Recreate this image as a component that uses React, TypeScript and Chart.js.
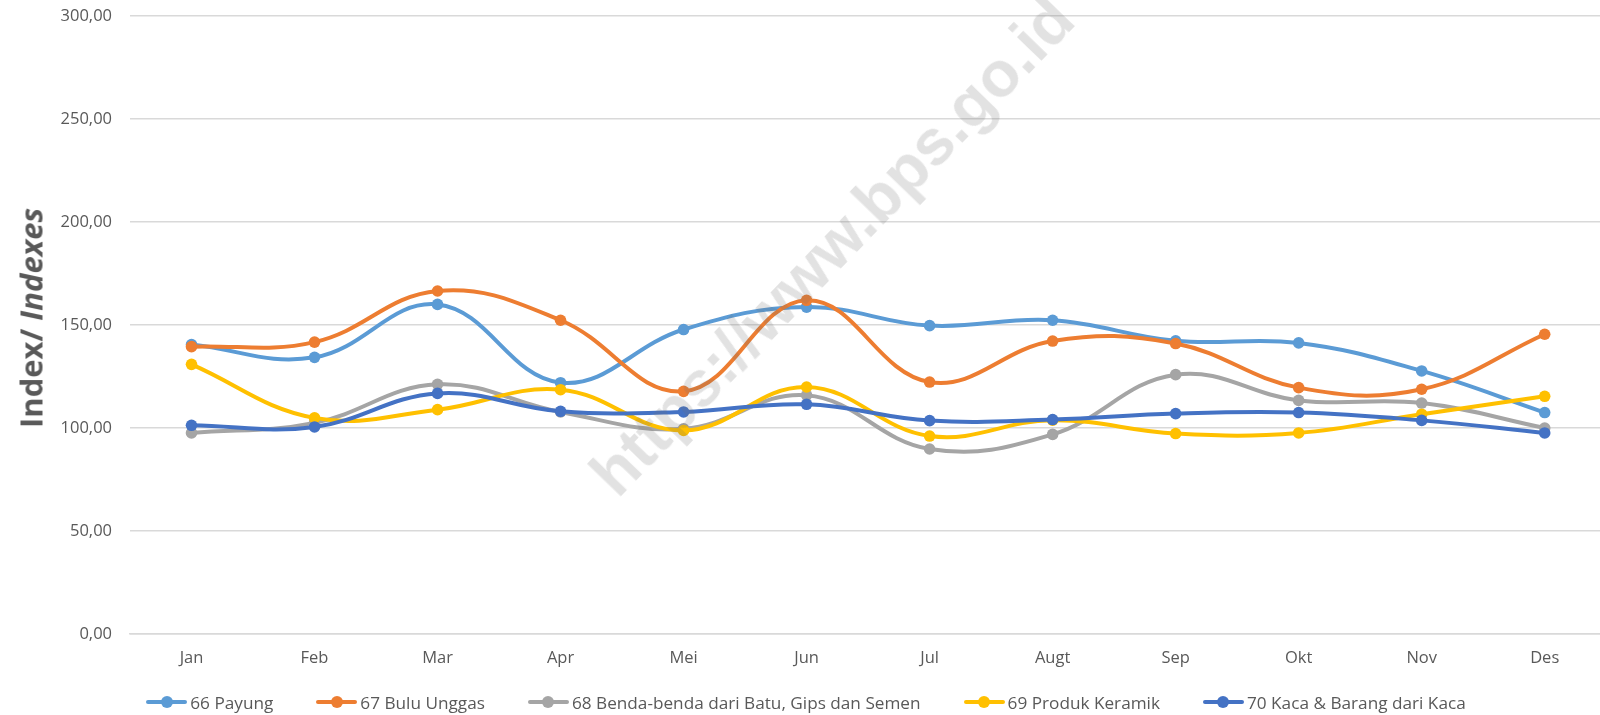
import React, { useEffect, useRef } from "react";
import { Chart, registerables } from "chart.js";

Chart.register(...registerables);

const months = ["Jan", "Feb", "Mar", "Apr", "Mei", "Jun", "Jul", "Augt", "Sep", "Okt", "Nov", "Des"];

const seriesNames = [
  "66 Payung",
  "67 Bulu Unggas",
  "68 Benda-benda dari Batu, Gips dan Semen",
  "69 Produk Keramik",
  "70 Kaca & Barang dari Kaca",
];

const payung = [140.5, 134.3, 160.0, 122.0, 147.8, 158.7, 149.7, 152.3, 142.3, 141.3, 127.7, 107.5];
const buluUnggas = [139.5, 141.7, 166.5, 152.3, 117.8, 162.0, 122.3, 142.2, 141.0, 119.6, 118.8, 145.5];
const bendaBatu = [97.6, 102.5, 121.2, 107.8, 99.6, 115.9, 89.8, 96.9, 125.9, 113.4, 112.1, 100.0];
const produkKeramik = [130.9, 104.9, 108.9, 118.6, 98.8, 119.9, 96.1, 103.8, 97.3, 97.6, 106.7, 115.4];
const kaca = [101.3, 100.5, 116.8, 108.1, 107.8, 111.5, 103.6, 104.1, 107.0, 107.5, 103.7, 97.6];

const seriesValues = [payung, buluUnggas, bendaBatu, produkKeramik, kaca];
const seriesColors = ["#5B9BD5", "#ED7D31", "#A5A5A5", "#FFC000", "#4472C4"];

const yMin = 0;
const yMax = 300;
const yStep = 50;

const FONT = "'Open Sans', 'Liberation Sans', sans-serif";
const TEXT = "#595959";

export default function App() {
  const ref = useRef<HTMLCanvasElement | null>(null);

  useEffect(() => {
    const canvas = ref.current;
    if (!canvas) return;
    Chart.defaults.font.family = FONT;
    const chart = new Chart(canvas, {
      type: "line",
      data: {
        labels: months,
        datasets: seriesValues.map((values, i) => ({
          label: seriesNames[i],
          data: values,
          borderColor: seriesColors[i],
          backgroundColor: seriesColors[i],
          pointBackgroundColor: seriesColors[i],
          pointBorderColor: seriesColors[i],
          pointBorderWidth: 0,
          pointRadius: 5.8,
          borderWidth: 4,
          tension: 0.4,
          fill: false,
          order: seriesValues.length - 1 - i,
        })),
      },
      options: {
        responsive: false,
        animation: false,
        layout: { padding: { top: 16, right: 3, bottom: 0, left: 0 } },
        plugins: {
          legend: { display: false },
          tooltip: { enabled: false },
          title: { display: false },
        },
        scales: {
          x: {
            offset: true,
            grid: { display: false, drawTicks: false, offset: true },
            border: { display: true, color: "#d9d9d9", width: 1.5 },
            ticks: {
              color: TEXT,
              font: { size: 16.5, family: FONT },
              padding: 14,
              maxRotation: 0,
              autoSkip: false,
            },
            afterFit: (s: any) => {
              s.height = 81;
            },
          },
          y: {
            min: yMin,
            max: yMax,
            grid: { color: "#d9d9d9", lineWidth: 1.5, drawTicks: false },
            border: { display: false },
            ticks: {
              stepSize: yStep,
              color: TEXT,
              font: { size: 16.5, family: FONT },
              padding: 18,
              callback: (v: any) => Number(v).toFixed(2).replace(".", ","),
            },
            afterFit: (s: any) => {
              s.width = 130;
              s.paddingTop = 0;
              s.paddingBottom = 0;
            },
          },
        },
      },
    });
    return () => chart.destroy();
  }, []);

  return (
    <div
      style={{
        position: "fixed",
        left: 0,
        top: 0,
        width: 1600,
        height: 715,
        overflow: "hidden",
        background: "#fff",
        fontFamily: FONT,
      }}
    >
      <canvas ref={ref} width={1612} height={715} style={{ position: "absolute", left: 0, top: 0, width: 1612, height: 715 }} />
      <div
        style={{
          position: "absolute",
          left: 31,
          top: 318,
          transform: "translate(-50%, -50%) rotate(-90deg)",
          whiteSpace: "nowrap",
          fontSize: 31,
          fontWeight: 700,
          color: TEXT,
          lineHeight: 1,
        }}
      >
        Index/ <i>Indexes</i>
      </div>
      <div
        style={{
          position: "absolute",
          left: 832,
          top: 246,
          transform: "translate(-50%, -50%) rotate(-46deg)",
          whiteSpace: "nowrap",
          fontSize: 64,
          fontWeight: 700,
          fontFamily: "'Liberation Sans', Arial, sans-serif",
          color: "rgba(110,110,110,0.2)",
          lineHeight: 1,
          pointerEvents: "none",
        }}
      >
        https://www.bps.go.id
      </div>
      <div
        style={{
          position: "absolute",
          left: 0,
          top: 690,
          width: 1612,
          height: 24,
          display: "flex",
          justifyContent: "center",
          alignItems: "center",
          gap: 43,
          fontSize: 17.2,
          color: TEXT,
        }}
      >
        {seriesNames.map((name, i) => (
          <div key={name} style={{ display: "flex", alignItems: "center", whiteSpace: "nowrap" }}>
            <div style={{ position: "relative", width: 41, height: 12, marginRight: 3 }}>
              <div
                style={{
                  position: "absolute",
                  left: 0,
                  top: 4,
                  width: 41,
                  height: 4,
                  background: seriesColors[i],
                  borderRadius: 2,
                }}
              />
              <div
                style={{
                  position: "absolute",
                  left: 14.5,
                  top: 0,
                  width: 12,
                  height: 12,
                  borderRadius: 6,
                  background: seriesColors[i],
                }}
              />
            </div>
            <span>{name}</span>
          </div>
        ))}
      </div>
    </div>
  );
}
